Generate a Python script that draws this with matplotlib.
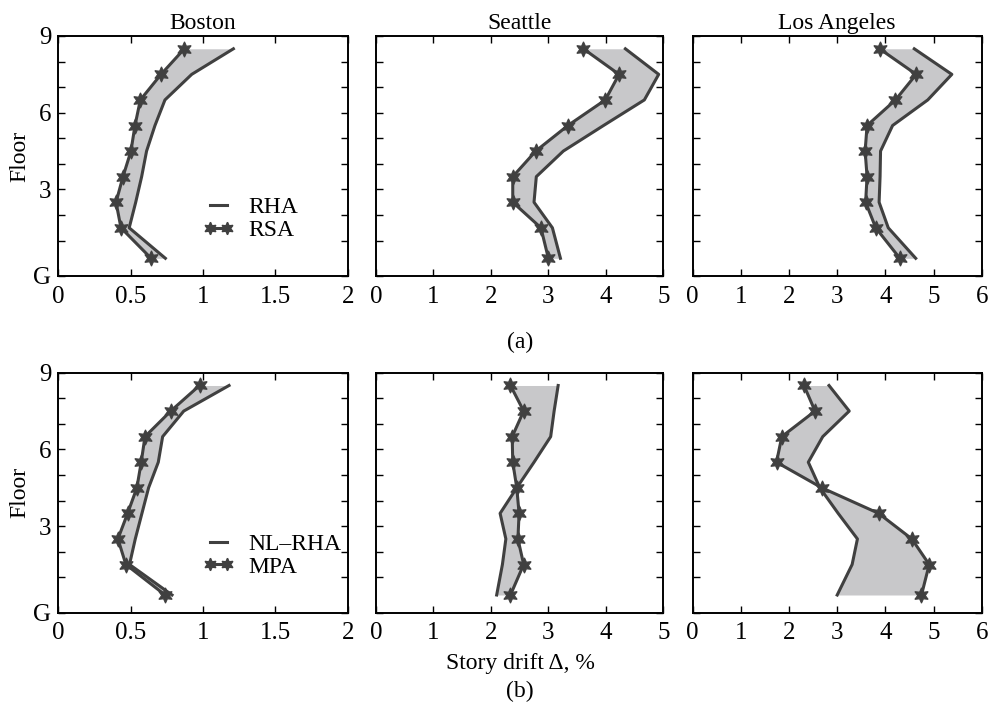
import numpy as np
import matplotlib
matplotlib.use("Agg")
import matplotlib.pyplot as plt
from matplotlib.lines import Line2D

plt.rcParams['font.family'] = ['Liberation Serif', 'DejaVu Serif']

# Story heights (ft): ground story 18 ft, others 13 ft
story_heights = [18, 13, 13, 13, 13, 13, 13, 13, 13]
floor_tick_labels = ["G", "", "", "3", "", "", "6", "", "", "9"]

cities = ["Boston", "Seattle", "Los Angeles"]
xlims = [2, 5, 6]
xticks_list = [[0, 0.5, 1, 1.5, 2], [0, 1, 2, 3, 4, 5], [0, 1, 2, 3, 4, 5, 6]]
xticklabels_list = [["0", "0.5", "1", "1.5", "2"], ["0", "1", "2", "3", "4", "5"],
                    ["0", "1", "2", "3", "4", "5", "6"]]

# (a) elastic: RHA vs RSA, stories 1..9
rha_boston = [0.74, 0.49, 0.535, 0.576, 0.61, 0.668, 0.737, 0.922, 1.21]
rsa_boston = [0.641, 0.433, 0.399, 0.447, 0.502, 0.530, 0.567, 0.710, 0.871]
rha_seattle = [3.21, 3.07, 2.75, 2.79, 3.26, 3.96, 4.67, 4.92, 4.34]
rsa_seattle = [3.00, 2.87, 2.38, 2.38, 2.78, 3.34, 3.99, 4.23, 3.61]
rha_la = [4.63, 4.06, 3.87, 3.89, 3.90, 4.15, 4.88, 5.38, 4.60]
rsa_la = [4.30, 3.80, 3.59, 3.62, 3.58, 3.62, 4.21, 4.64, 3.88]

# (b) inelastic: NL-RHA vs MPA
nlrha_boston = [0.786, 0.492, 0.532, 0.578, 0.624, 0.691, 0.721, 0.867, 1.18]
mpa_boston = [0.738, 0.467, 0.412, 0.479, 0.543, 0.573, 0.599, 0.777, 0.976]
nlrha_seattle = [2.10, 2.20, 2.26, 2.16, 2.45, 2.75, 3.04, 3.10, 3.17]
mpa_seattle = [2.34, 2.57, 2.47, 2.49, 2.45, 2.38, 2.37, 2.57, 2.34]
nlrha_la = [3.00, 3.31, 3.42, 3.02, 2.64, 2.40, 2.70, 3.25, 2.83]
mpa_la = [4.75, 4.91, 4.55, 3.86, 2.68, 1.74, 1.85, 2.54, 2.31]

ref_rows = [[rha_boston, rha_seattle, rha_la], [nlrha_boston, nlrha_seattle, nlrha_la]]
approx_rows = [[rsa_boston, rsa_seattle, rsa_la], [mpa_boston, mpa_seattle, mpa_la]]
legend_rows = [["RHA", "RSA"], ["NL\u2013RHA", "MPA"]]

floor_elev = np.concatenate([[0], np.cumsum(story_heights)])
story_mid = (floor_elev[:-1] + floor_elev[1:]) / 2

W, H = 992, 713
fig = plt.figure(figsize=(W / 100, H / 100), dpi=100)

col_px = [(58.3, 347.7), (376.0, 663.3), (692.7, 981.7)]
row_px = [(36.0, 276.0), (372.7, 612.7)]

line_col = "#404040"
fill_col = "#c8c8ca"
star = (6, 1, 0)

for r in range(2):
    for c in range(3):
        x0, x1 = col_px[c]
        y0, y1 = row_px[r]
        ax = fig.add_axes([x0 / W, 1 - y1 / H, (x1 - x0) / W, (y1 - y0) / H])
        ref = np.array(ref_rows[r][c])
        apx = np.array(approx_rows[r][c])
        ax.fill_betweenx(story_mid, ref, apx, color=fill_col, lw=0, zorder=1)
        ax.plot(ref, story_mid, color=line_col, lw=2.2, zorder=2)
        ax.plot(apx, story_mid, color=line_col, lw=2.2, marker=star,
                ms=11, mfc=line_col, mec=line_col, mew=0.8, zorder=3)
        ax.set_xlim(0, xlims[c])
        ax.set_ylim(0, floor_elev[-1])
        ax.set_xticks(xticks_list[c])
        ax.set_xticklabels(xticklabels_list[c])
        ax.set_yticks(floor_elev)
        if c == 0:
            ax.set_yticklabels(floor_tick_labels)
            ax.set_ylabel("Floor", fontsize=17, labelpad=2)
        else:
            ax.set_yticklabels([])
        ax.tick_params(direction="in", length=5, width=1.0, top=True, right=True,
                       labelsize=18)
        ax.tick_params(axis="x", pad=7)
        ax.tick_params(axis="y", pad=5)
        for s in ax.spines.values():
            s.set_linewidth(1.4)
        if r == 0:
            ax.set_title(cities[c], fontsize=17, pad=5)
        if c == 0:
            handles = [Line2D([], [], color=line_col, lw=2.2),
                       Line2D([], [], color=line_col, lw=2.2, marker=star, ms=9,
                              mfc=line_col, mec=line_col)]
            ax.legend(handles, legend_rows[r], loc="upper left",
                      bbox_to_anchor=(0.5, 0.33), frameon=False, fontsize=17,
                      handlelength=1.3, handletextpad=0.6, labelspacing=0.05,
                      borderpad=0, borderaxespad=0, numpoints=2)

fig.text(520 / W, 1 - 342 / H, "(a)", ha="center", va="center", fontsize=17)
fig.text(520 / W, 1 - 663 / H, "Story drift \u0394, %", ha="center", va="center", fontsize=17)
fig.text(520 / W, 1 - 691 / H, "(b)", ha="center", va="center", fontsize=17)

fig.savefig("out.png", dpi=100)
